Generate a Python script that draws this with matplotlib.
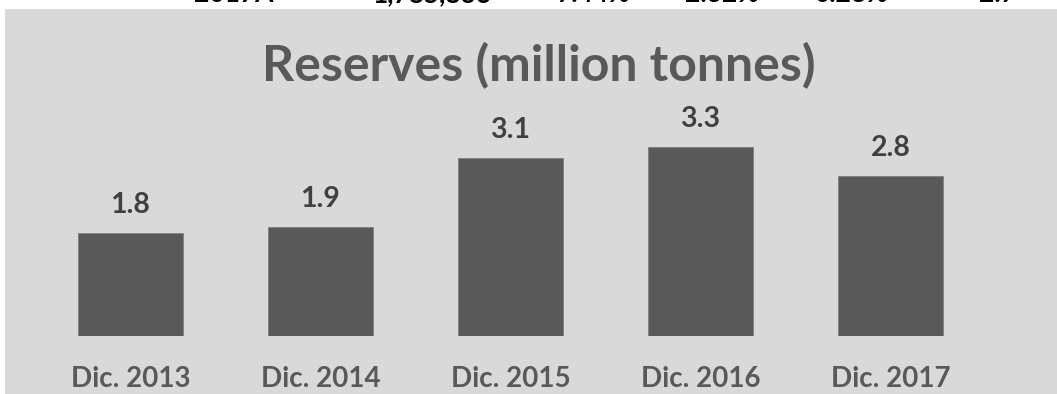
import matplotlib
matplotlib.use("Agg")
import matplotlib.pyplot as plt
from matplotlib.patches import Rectangle

categories = ["Dic. 2013", "Dic. 2014", "Dic. 2015", "Dic. 2016", "Dic. 2017"]
reserves = [1.8, 1.9, 3.1, 3.3, 2.8]

# row of the table sitting above the chart (only its lower edge shows)
table_row = ["2017A", "1,785,836", "7.44%", "2.32%", "0.28%", "2.7"]
table_x = [234, 432, 594, 722, 851, 997]

W, H = 1057, 394
fig = plt.figure(figsize=(W / 100, H / 100), dpi=100)
fig.patch.set_facecolor("white")

plt.rcParams["font.family"] = ["Lato", "DejaVu Sans"]

# grey chart area, kept behind the axes
fig.patches.append(Rectangle((5 / W, 0), 1 - 5 / W, (H - 9) / H,
                             transform=fig.transFigure, facecolor="#d9d9d9",
                             edgecolor="none", zorder=-1))

for txt, x in zip(table_row, table_x):
    fig.text(x / W, (H - 2.5) / H, txt, ha="center", va="baseline",
             fontsize=19, fontweight="bold", color="black")

px_per_unit = 57.3
ymax = 4.0
ax_left, ax_right = 35.5, 985.5
ax_bottom = H - 336
ax = fig.add_axes([ax_left / W, ax_bottom / H, (ax_right - ax_left) / W,
                   ymax * px_per_unit / H])
ax.set_facecolor("none")
ax.set_zorder(1)

x = range(len(categories))
bars = ax.bar(x, reserves, width=0.553, color="#595959", edgecolor="#7f7f7f",
              linewidth=0.6)
ax.set_xlim(-0.5, len(categories) - 0.5)
ax.set_ylim(0, ymax)

for b, v in zip(bars, reserves):
    ax.annotate(f"{v:.1f}", (b.get_x() + b.get_width() / 2, v),
                xytext=(0, 14.4), textcoords="offset points", ha="center",
                va="baseline", fontsize=20.5, fontweight="bold", color="#404040")

ax.set_xticks(list(x))
ax.set_xticklabels(categories, fontsize=20, fontweight="bold", color="#595959")
for lab in ax.get_xticklabels():
    lab.set_va("baseline")
ax.tick_params(axis="x", length=0, pad=36.7)
ax.set_yticks([])
for s in ax.spines.values():
    s.set_visible(False)

fig.text(538.5 / W, (H - 81) / H, "Reserves (million tonnes)", ha="center",
         va="baseline", fontsize=36, fontweight="bold", color="#595959")

fig.savefig("out.png", dpi=100)
